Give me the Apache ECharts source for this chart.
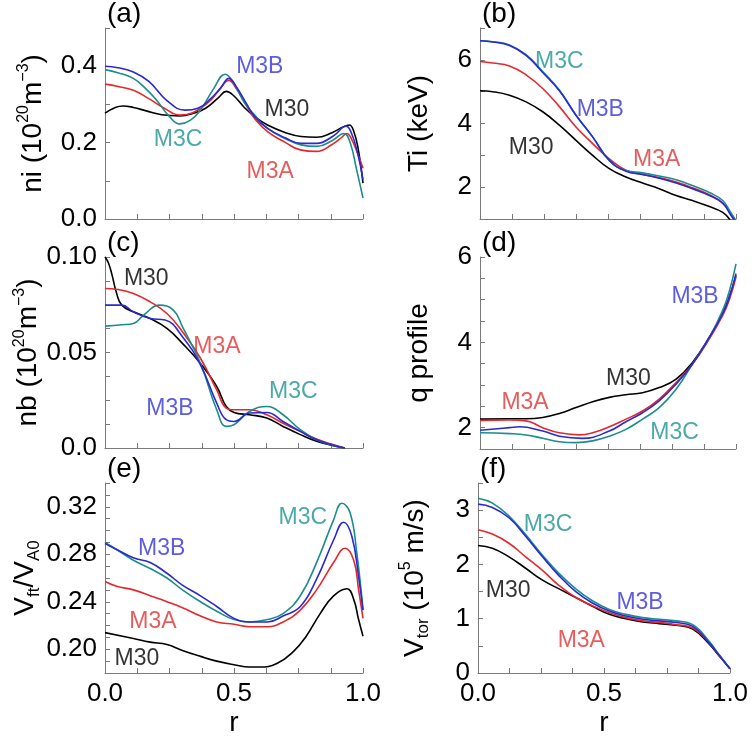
<!DOCTYPE html>
<html>
<head>
<meta charset="utf-8">
<script src="https://cdn.jsdelivr.net/npm/echarts@6/dist/echarts.min.js"></script>
<style>
  html, body { margin: 0; padding: 0; background: #fff; }
  #chart { width: 756px; height: 740px; }
</style>
</head>
<body>
<div id="chart"></div>
<script>
// Data: [r, value] pairs
// (a) ni
const niM30 = [[0,0.277],[0.04,0.292],[0.07,0.296],[0.11,0.292],[0.16,0.283],[0.22,0.273],[0.29,0.27],[0.34,0.276],[0.39,0.29],[0.44,0.318],[0.47,0.334],[0.5,0.322],[0.54,0.292],[0.58,0.268],[0.63,0.246],[0.7,0.226],[0.76,0.216],[0.82,0.214],[0.88,0.226],[0.92,0.24],[0.947,0.246],[0.965,0.228],[0.982,0.181],[1,0.094]]
const niM3A = [[0,0.353],[0.05,0.347],[0.11,0.337],[0.17,0.315],[0.23,0.29],[0.29,0.272],[0.34,0.278],[0.4,0.305],[0.44,0.335],[0.48,0.363],[0.51,0.34],[0.55,0.295],[0.58,0.263],[0.63,0.229],[0.7,0.2],[0.757,0.181],[0.82,0.177],[0.88,0.195],[0.92,0.215],[0.937,0.224],[0.955,0.21],[0.98,0.17],[1,0.133]]
const niM3B = [[0,0.4],[0.05,0.396],[0.11,0.385],[0.17,0.36],[0.24,0.31],[0.31,0.285],[0.36,0.29],[0.41,0.315],[0.45,0.345],[0.48,0.368],[0.51,0.345],[0.55,0.3],[0.58,0.268],[0.63,0.237],[0.7,0.212],[0.76,0.198],[0.82,0.198],[0.886,0.218],[0.934,0.243],[0.955,0.225],[0.98,0.17],[1,0.103]]
const niM3C = [[0,0.391],[0.05,0.383],[0.11,0.368],[0.16,0.34],[0.2,0.311],[0.25,0.268],[0.29,0.249],[0.33,0.258],[0.37,0.285],[0.42,0.34],[0.466,0.379],[0.5,0.355],[0.54,0.305],[0.58,0.272],[0.63,0.237],[0.7,0.21],[0.76,0.194],[0.82,0.19],[0.88,0.205],[0.926,0.224],[0.95,0.2],[0.975,0.13],[1,0.055]]

// (b) Ti
const tiM30 = [[0,5.03],[0.05,5.0],[0.115,4.89],[0.18,4.68],[0.245,4.37],[0.31,3.95],[0.375,3.47],[0.44,3.0],[0.505,2.58],[0.57,2.32],[0.635,2.13],[0.7,1.95],[0.766,1.74],[0.83,1.58],[0.896,1.39],[0.948,1.21],[0.974,1.0],[1,0.6]]
const tiM3A = [[0,5.95],[0.05,5.9],[0.115,5.81],[0.18,5.53],[0.245,5.1],[0.31,4.53],[0.375,3.89],[0.44,3.37],[0.505,2.89],[0.57,2.53],[0.635,2.4],[0.7,2.3],[0.766,2.16],[0.83,1.98],[0.896,1.76],[0.948,1.5],[0.98,1.15],[1,0.9]]
const tiM3B = [[0,6.6],[0.05,6.56],[0.115,6.45],[0.18,6.14],[0.245,5.6],[0.31,5.03],[0.375,4.26],[0.44,3.58],[0.505,2.84],[0.57,2.5],[0.635,2.4],[0.7,2.28],[0.766,2.13],[0.83,1.95],[0.896,1.74],[0.948,1.5],[0.98,1.12],[1,0.9]]
const tiM3C = [[0,6.6],[0.05,6.57],[0.115,6.47],[0.18,6.16],[0.245,5.63],[0.31,5.05],[0.375,4.26],[0.44,3.58],[0.505,2.84],[0.57,2.52],[0.635,2.45],[0.7,2.35],[0.766,2.23],[0.83,2.05],[0.896,1.83],[0.948,1.58],[0.98,1.2],[1,0.95]]

// (c) nb
const nbM30 = [[0,0.1],[0.013,0.097],[0.026,0.0913],[0.045,0.081],[0.065,0.0748],[0.11,0.0713],[0.175,0.0678],[0.24,0.0626],[0.3,0.0548],[0.37,0.0443],[0.433,0.0322],[0.47,0.0217],[0.5,0.0186],[0.56,0.0174],[0.627,0.0157],[0.69,0.0113],[0.757,0.007],[0.82,0.0035],[0.886,0.0012],[0.93,0]]
const nbM3A = [[0,0.0835],[0.05,0.083],[0.11,0.0809],[0.175,0.0765],[0.24,0.0704],[0.3,0.0609],[0.37,0.047],[0.433,0.0304],[0.47,0.0209],[0.5,0.02],[0.56,0.02],[0.627,0.0174],[0.69,0.013],[0.757,0.0087],[0.82,0.0047],[0.886,0.0017],[0.93,0]]
const nbM3B = [[0,0.0748],[0.065,0.0748],[0.11,0.0713],[0.175,0.0678],[0.233,0.067],[0.3,0.0583],[0.37,0.0435],[0.433,0.0235],[0.47,0.0148],[0.5,0.0139],[0.56,0.0183],[0.627,0.0186],[0.69,0.0139],[0.757,0.0087],[0.82,0.0043],[0.886,0.0014],[0.93,0]]
const nbM3C = [[0,0.0638],[0.065,0.0645],[0.11,0.0652],[0.15,0.0696],[0.21,0.0748],[0.265,0.0722],[0.3,0.0635],[0.37,0.0443],[0.433,0.02],[0.47,0.0113],[0.5,0.0122],[0.56,0.0191],[0.627,0.0217],[0.69,0.0174],[0.757,0.0096],[0.82,0.0043],[0.886,0.0012],[0.93,0]]

// (d) q profile
const qM30 = [[0,2.2],[0.115,2.21],[0.18,2.21],[0.245,2.24],[0.31,2.33],[0.375,2.47],[0.44,2.61],[0.505,2.71],[0.57,2.77],[0.635,2.82],[0.7,2.94],[0.766,3.14],[0.83,3.53],[0.896,4.12],[0.948,4.67],[0.974,5.06],[1,5.57]]
const qM3A = [[0,2.17],[0.115,2.18],[0.18,2.16],[0.245,2.0],[0.31,1.88],[0.39,1.83],[0.44,1.88],[0.505,2.02],[0.57,2.2],[0.635,2.39],[0.7,2.67],[0.766,3.06],[0.83,3.49],[0.896,4.08],[0.948,4.63],[0.974,5.0],[1,5.53]]
const qM3B = [[0,1.94],[0.115,2.0],[0.154,2.02],[0.245,1.92],[0.31,1.8],[0.4,1.75],[0.505,1.92],[0.57,2.14],[0.635,2.35],[0.7,2.63],[0.766,3.02],[0.83,3.49],[0.896,4.12],[0.948,4.67],[0.974,5.06],[1,5.61]]
const qM3C = [[0,1.88],[0.115,1.86],[0.18,1.83],[0.245,1.75],[0.31,1.67],[0.375,1.65],[0.44,1.69],[0.505,1.8],[0.57,1.96],[0.635,2.2],[0.7,2.47],[0.766,2.9],[0.83,3.49],[0.896,4.12],[0.948,4.75],[0.974,5.2],[1,5.84]]

// (e) Vft/VA0
const vfM30 = [[0,0.214],[0.11,0.209],[0.175,0.206],[0.24,0.204],[0.3,0.199],[0.37,0.194],[0.433,0.19],[0.5,0.187],[0.56,0.185],[0.6,0.185],[0.666,0.188],[0.73,0.198],[0.78,0.211],[0.834,0.23],[0.886,0.245],[0.938,0.251],[0.964,0.242],[0.983,0.225],[1,0.211]]
const vfM3A = [[0,0.257],[0.045,0.253],[0.11,0.25],[0.175,0.245],[0.24,0.24],[0.3,0.235],[0.37,0.228],[0.433,0.223],[0.5,0.221],[0.56,0.219],[0.63,0.219],[0.69,0.223],[0.757,0.233],[0.82,0.25],[0.886,0.273],[0.93,0.285],[0.964,0.275],[0.983,0.25],[1,0.226]]
const vfM3B = [[0,0.289],[0.045,0.284],[0.11,0.277],[0.175,0.273],[0.24,0.264],[0.3,0.254],[0.37,0.245],[0.433,0.236],[0.5,0.226],[0.56,0.223],[0.63,0.223],[0.69,0.228],[0.757,0.236],[0.82,0.259],[0.886,0.292],[0.925,0.307],[0.957,0.295],[0.983,0.261],[1,0.233]]
const vfM3C = [[0,0.29],[0.045,0.284],[0.11,0.275],[0.175,0.268],[0.24,0.26],[0.3,0.25],[0.37,0.24],[0.433,0.232],[0.5,0.225],[0.56,0.223],[0.63,0.225],[0.69,0.23],[0.757,0.245],[0.82,0.273],[0.886,0.309],[0.918,0.323],[0.95,0.315],[0.976,0.281],[1,0.233]]

// (f) Vtor
const vtM30 = [[0,2.35],[0.057,2.3],[0.123,2.14],[0.189,1.93],[0.256,1.71],[0.322,1.55],[0.388,1.39],[0.454,1.23],[0.521,1.08],[0.587,1.0],[0.653,0.94],[0.719,0.91],[0.785,0.88],[0.852,0.81],[0.918,0.53],[0.958,0.31],[1,0.08]]
const vtM3A = [[0,2.64],[0.057,2.56],[0.123,2.39],[0.189,2.14],[0.256,1.89],[0.322,1.61],[0.388,1.39],[0.454,1.24],[0.521,1.11],[0.587,1.02],[0.653,0.96],[0.719,0.93],[0.785,0.89],[0.852,0.83],[0.918,0.55],[0.958,0.32],[1,0.08]]
const vtM3B = [[0,3.11],[0.057,3.05],[0.123,2.86],[0.189,2.52],[0.256,2.14],[0.322,1.79],[0.388,1.5],[0.454,1.29],[0.521,1.14],[0.587,1.05],[0.653,0.99],[0.719,0.96],[0.785,0.93],[0.852,0.86],[0.918,0.55],[0.958,0.32],[1,0.08]]
const vtM3C = [[0,3.22],[0.057,3.13],[0.123,2.89],[0.189,2.55],[0.256,2.17],[0.322,1.83],[0.388,1.55],[0.454,1.33],[0.521,1.17],[0.587,1.08],[0.653,1.02],[0.719,0.99],[0.785,0.96],[0.852,0.89],[0.918,0.58],[0.958,0.33],[1,0.08]]

// Curve labels: [name, r, value]
const labelsA = [['M3B',0.6,0.40],['M30',0.705,0.285],['M3C',0.283,0.207],['M3A',0.64,0.123]]
const labelsB = [['M3C',0.31,5.94],['M3B',0.47,4.45],['M30',0.2,3.25],['M3A',0.69,2.87]]
const labelsC = [['M30',0.16,0.0884],['M3A',0.434,0.0529],['M3B',0.252,0.0205],['M3C',0.73,0.0294]]
const labelsD = [['M3B',0.84,5.08],['M30',0.58,3.16],['M3A',0.176,2.59],['M3C',0.76,1.88]]
const labelsE = [['M3C',0.767,0.311],['M3B',0.22,0.285],['M3A',0.186,0.223],['M30',0.124,0.192]]
const labelsF = [['M3C',0.278,2.73],['M3B',0.643,1.29],['M30',0.12,1.51],['M3A',0.41,0.59]]

const FONT = '"Liberation Sans", Arial, sans-serif'
const COLORS = { M30: '#000000', M3A: '#e5282c', M3B: '#2a2ad2', M3C: '#1c8c8c' }
const TEXT_COLORS = { M30: '#000000', M3A: '#e03434', M3B: '#3535d6', M3C: '#1e9494' }

// panel layout + axis setup
const panels = [
  { tag: '(a)', grid: { left: 105, top: 28, width: 258, height: 191 }, series: { M30: niM30, M3A: niM3A, M3C: niM3C, M3B: niM3B }, labels: labelsA,
    y: { min: 0, max: 0.5, interval: 0.1, fmt: v => (Math.round(v * 10) % 2 === 0 ? v.toFixed(1) : '') },
    name: '{t|ni (10}{s|20}{t|m}{s|−3}{t|)}', gap: 55, bottom: false },
  { tag: '(b)', grid: { left: 480, top: 28, width: 256, height: 191 }, series: { M30: tiM30, M3A: tiM3A, M3C: tiM3C, M3B: tiM3B }, labels: labelsB,
    y: { min: 1, max: 7, interval: 1, fmt: v => (v % 2 === 0 ? String(v) : '') },
    name: '{t|Ti (keV)}', gap: 44, bottom: false },
  { tag: '(c)', grid: { left: 105, top: 257, width: 258, height: 191 }, series: { M30: nbM30, M3A: nbM3A, M3C: nbM3C, M3B: nbM3B }, labels: labelsC,
    y: { min: 0, max: 0.1, interval: 0.0125, fmt: v => (v === 0 ? '0.0' : (Math.abs(v - 0.05) < 1e-6 || Math.abs(v - 0.1) < 1e-6) ? v.toFixed(2) : '') },
    name: '{t|nb (10}{s|20}{t|m}{s|−3}{t|)}', gap: 55, bottom: false },
  { tag: '(d)', grid: { left: 480, top: 257, width: 256, height: 192 }, series: { M30: qM30, M3A: qM3A, M3C: qM3C, M3B: qM3B }, labels: labelsD,
    y: { min: 1.5, max: 6, interval: 0.5, fmt: v => (v % 2 === 0 ? String(v) : '') },
    name: '{t|q profile}', gap: 44, bottom: false },
  { tag: '(e)', grid: { left: 105, top: 483, width: 258, height: 190 }, series: { M30: vfM30, M3A: vfM3A, M3C: vfM3C, M3B: vfM3B }, labels: labelsE,
    y: { min: 0.18, max: 0.34, interval: 0.01, fmt: v => (Math.round(v * 100) % 4 === 0 ? v.toFixed(2) : '') },
    name: '{t|V}{b|ft}{t|/V}{b|A0}', gap: 62, bottom: true },
  { tag: '(f)', grid: { left: 478, top: 483, width: 252, height: 190 }, series: { M30: vtM30, M3A: vtM3A, M3C: vtM3C, M3B: vtM3B }, labels: labelsF,
    y: { min: 0, max: 3.5, interval: 0.5, fmt: v => (v % 1 === 0 ? String(v) : '') },
    name: '{t|V}{b|tor}{t| (10}{s|5}{t| m/s)}', gap: 46, bottom: true }
]

const axisGray = '#7a7a7a'

const option = {
  animation: false,
  backgroundColor: '#ffffff',
  textStyle: { fontFamily: FONT },
  title: panels.map(p => ({
    text: p.tag,
    left: p.grid.left + 2,
    top: p.grid.top - 28,
    padding: 0,
    textStyle: { fontSize: 28, fontWeight: 'normal', color: '#000', fontFamily: FONT }
  })),
  grid: panels.map(p => p.grid),
  xAxis: panels.map((p, i) => ({
    type: 'value',
    gridIndex: i,
    min: 0,
    max: 1,
    interval: 0.125,
    name: p.bottom ? 'r' : '',
    nameLocation: 'middle',
    nameGap: 36,
    nameTextStyle: { fontSize: 28, color: '#000', fontFamily: FONT },
    axisLine: { lineStyle: { color: axisGray, width: 1 } },
    axisTick: { inside: true, length: 5, lineStyle: { color: axisGray } },
    axisLabel: {
      show: p.bottom,
      fontSize: 26,
      color: '#000',
      margin: 8,
      fontFamily: FONT,
      formatter: v => ([0, 0.5, 1].includes(v) ? v.toFixed(1) : '')
    },
    splitLine: { show: false }
  })),
  yAxis: panels.map((p, i) => ({
    type: 'value',
    gridIndex: i,
    min: p.y.min,
    max: p.y.max,
    interval: p.y.interval,
    name: p.name,
    nameLocation: 'middle',
    nameRotate: 90,
    nameGap: p.gap,
    nameTextStyle: {
      fontSize: 28, color: '#000', fontFamily: FONT,
      rich: {
        t: { fontSize: 28, lineHeight: 34, color: '#000', fontFamily: FONT },
        s: { fontSize: 16, verticalAlign: 'top', color: '#000', fontFamily: FONT },
        b: { fontSize: 17, verticalAlign: 'bottom', color: '#000', fontFamily: FONT }
      }
    },
    axisLine: { show: true, lineStyle: { color: axisGray, width: 1 } },
    axisTick: { inside: true, length: 5, lineStyle: { color: axisGray } },
    axisLabel: { fontSize: 26, color: '#000', margin: 8, fontFamily: FONT, formatter: p.y.fmt },
    splitLine: { show: false }
  })),
  series: []
}

// Lines
panels.forEach((p, i) => {
  Object.keys(p.series).forEach(key => {
    option.series.push({
      name: key,
      type: 'line',
      xAxisIndex: i,
      yAxisIndex: i,
      data: p.series[key],
      smooth: 0.45,
      showSymbol: false,
      clip: true,
      lineStyle: { width: 1.6, color: COLORS[key] },
      itemStyle: { color: COLORS[key] },
      silent: true
    })
  })
  // curve names, placed in data coordinates
  option.series.push({
    type: 'scatter',
    xAxisIndex: i,
    yAxisIndex: i,
    symbolSize: 0,
    silent: true,
    data: p.labels.map(l => ({
      name: l[0],
      value: [l[1], l[2]],
      label: { color: TEXT_COLORS[l[0]] }
    })),
    label: {
      show: true,
      position: 'inside',
      fontSize: 23,
      fontFamily: FONT,
      formatter: params => params.name
    }
  })
})

const chart = echarts.init(document.getElementById('chart'))
chart.setOption(option)
</script>
</body>
</html>
